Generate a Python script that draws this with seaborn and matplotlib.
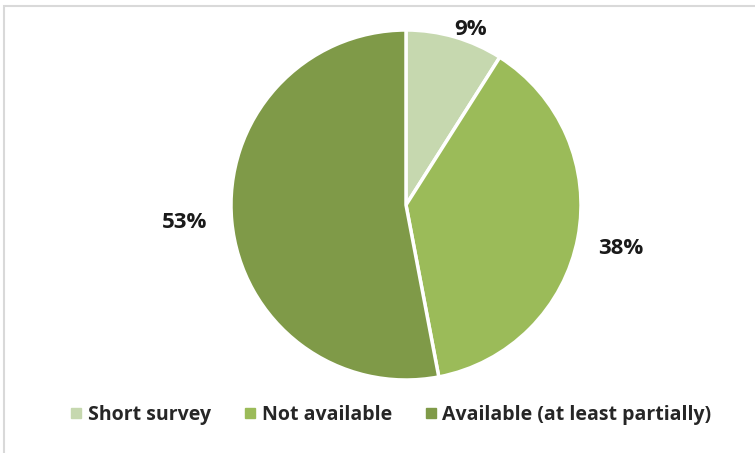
import matplotlib
matplotlib.use("Agg")
import matplotlib.pyplot as plt
import seaborn as sns
import numpy as np
from matplotlib.patches import Rectangle

sns.set_theme(style="white")
plt.rcParams['font.family'] = ['Open Sans', 'DejaVu Sans']

categories = ["Short survey", "Not available", "Available (at least partially)"]
values = [9, 38, 53]
labels = ["9%", "38%", "53%"]
colors = ["#C6D8AF", "#9BBB59", "#7F9A48"]
label_dist = [1.07, 1.25, 1.27]
label_shift = [-4.0, -0.6, -1.0]  # degrees

W, H = 755, 453
fig = plt.figure(figsize=(W / 100, H / 100), dpi=100)
fig.patch.set_facecolor("white")

# border (top and left visible)
fig.patches.append(Rectangle((4 / W, -0.1), 1.2, (453 - 6) / H + 0.1,
                             transform=fig.transFigure, fill=False,
                             edgecolor="#D9D9D9", linewidth=1.5))

R = 175
cx, cy = 406, 205
half = 1.3 * R
ax = fig.add_axes([(cx - half) / W, (H - cy - half) / H, 2 * half / W, 2 * half / H])

wedges, _ = ax.pie(values, colors=colors, startangle=90, counterclock=False,
                   wedgeprops=dict(edgecolor="white", linewidth=2.5))
ax.set_xlim(-1.3, 1.3)
ax.set_ylim(-1.3, 1.3)
ax.set_aspect("equal")
ax.axis("off")

for w, lab, d, s in zip(wedges, labels, label_dist, label_shift):
    ang = np.deg2rad((w.theta1 + w.theta2) / 2 + s)
    ax.text(d * np.cos(ang), d * np.sin(ang), lab, ha="center", va="center",
            fontsize=16, fontweight="bold", color="#1a1a1a")

handles = [plt.Line2D([], [], marker="s", linestyle="", markersize=7,
                      markerfacecolor=c, markeredgecolor=c) for c in colors]
fig.legend(handles, categories, loc="center", bbox_to_anchor=(390 / W, 1 - 415 / H),
           ncol=3, frameon=False, prop=dict(size=14, weight="bold"),
           handletextpad=0.2, columnspacing=1.6, handlelength=0.8)

fig.savefig("out.png", dpi=100, facecolor="white")
